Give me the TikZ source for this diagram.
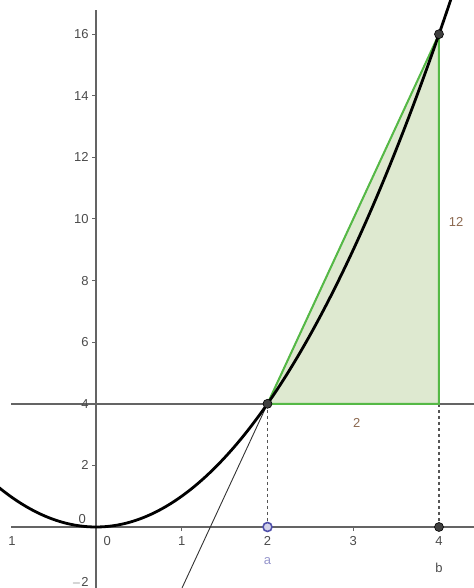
\documentclass[tikz,border=0pt]{standalone}
\usepackage{fontspec}
\setsansfont{Liberation Sans}

\definecolor{axisgray}{RGB}{100,100,100}
\definecolor{ticktext}{RGB}{75,75,75}
\definecolor{segmentgreen}{RGB}{85,185,70}
\definecolor{areagreen}{RGB}{222,233,208}
\definecolor{lengthbrown}{RGB}{140,105,80}
\definecolor{pointblue}{RGB}{80,80,170}

\tikzset{
  axisline/.style={draw=axisgray,line width=2pt},
  tickline/.style={draw=axisgray,line width=1pt},
  ticklabel/.style={text=ticktext,inner sep=0pt},
  dropline/.style={draw=axisgray!85!black,line width=1.4pt,dash pattern=on 3pt off 3pt},
  sideline/.style={draw=segmentgreen,line width=2pt},
  graphline/.style={draw=black,line width=2.8pt},
  secantline/.style={draw=black!80,line width=0.9pt},
  darkpoint/.style={shape=circle,fill=black!75,draw=black,line width=0.6pt,inner sep=0pt,minimum size=9pt},
  openpoint/.style={shape=circle,fill=pointblue!25,draw=pointblue,line width=1.6pt,inner sep=0pt,minimum size=9pt}
}

\begin{document}
\begin{tikzpicture}[x=85.75pt,y=30.8pt,font=\sffamily\fontsize{13}{13}\selectfont]
  \useasboundingbox (-1.1195,-1.981) rectangle (4.408,17.11);
  \clip (-1.1195,-1.981) rectangle (4.408,17.11);

  % points of the picture
  \coordinate (A) at (2,4);
  \coordinate (B) at (4,16);
  \coordinate (C) at (4,4);
  \coordinate (Ax) at (2,0);
  \coordinate (Bx) at (4,0);
  \coordinate (lowend) at (1.0,-2.0);

  % ends of the axes and of the line y=4
  \coordinate (xleft) at (-0.99,0);
  \coordinate (xright) at (4.5,0);
  \coordinate (ybottom) at (0,-2.1);
  \coordinate (ytop) at (0,16.79);
  \coordinate (hleft) at (-0.99,4);
  \coordinate (hright) at (4.5,4);

  \fill[areagreen] (A) -- (B) -- (C) -- cycle;

  \path[axisline] (xleft) -- (xright);
  \path[axisline] (ybottom) -- (ytop);
  \path[axisline] (hleft) -- (hright);

  \foreach \y in {2,4,...,16} {
    \path[tickline] (-0.045,\y) -- (0,\y);
    \node[ticklabel,anchor=east] (ylab\y) at (-0.085,\y) {\y};
  }
  \node[ticklabel,anchor=south east] (ylabm) at (-0.085,-1.97) {$-$2};
  \node[ticklabel] (ylab0) at (-0.16,0.27) {0};
  \foreach \x in {1,2,3,4} {
    \path[tickline] (\x,0) -- (\x,-0.14);
    \node[ticklabel] (xlab\x) at (\x,-0.45) {\x};
  }
  \node[ticklabel] (xlab0) at (0.13,-0.45) {0};
  \node[ticklabel] (xlabm) at (-0.98,-0.45) {1};

  \path[dropline] (A) -- (Ax);
  \path[dropline] (C) -- (Bx);

  \path[secantline,xshift=3.3pt] (B) -- (lowend);
  \path[sideline] (A) -- (B) -- (C) -- cycle;

  \draw[graphline] plot[domain=-1.13:4.15,samples=80,smooth] (\x,{\x*\x});

  \node[text=lengthbrown] (run) at (3.04,3.38) {2};
  \node[text=lengthbrown] (rise) at (4.2,9.9) {12};

  \node[darkpoint] (pA) at (A) {};
  \node[darkpoint] (pB) at (B) {};
  \node[openpoint] (pa) at (Ax) {};
  \node[darkpoint] (pb) at (Bx) {};
  \node[text=pointblue!60] (la) at (2,-1.1) {a};
  \node[text=ticktext] (lb) at (4,-1.32) {b};
\end{tikzpicture}
\end{document}
